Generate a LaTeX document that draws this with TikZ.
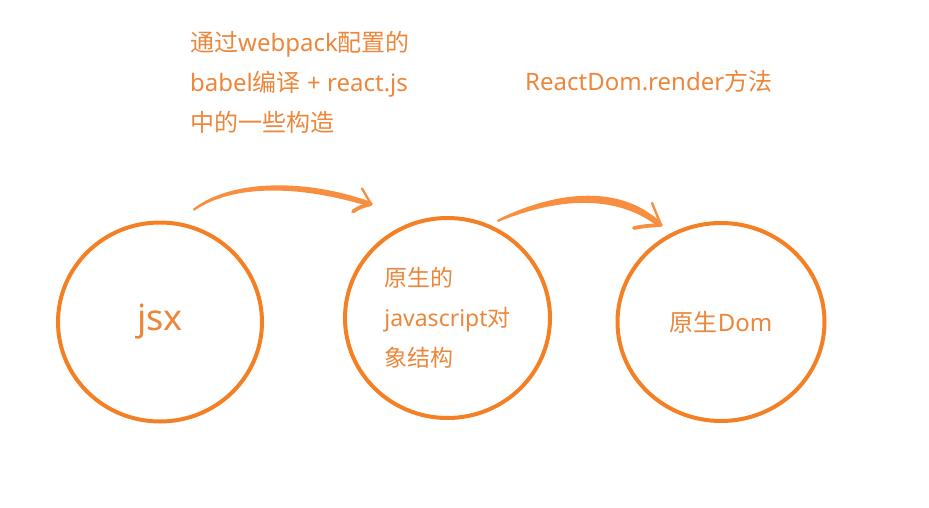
\documentclass[tikz,border=0pt]{standalone}
\usepackage{fontspec}
\setmainfont{Noto Sans}
\newfontfamily\cjk{Noto Sans CJK SC}
\usetikzlibrary{shapes.geometric}
\definecolor{ring}{RGB}{243,128,36}
\definecolor{txt}{RGB}{236,134,58}
\definecolor{brushc}{RGB}{248,143,64}
\begin{document}
\begin{tikzpicture}[x=1pt,y=-1pt,
  ringnode/.style={draw=ring,line width=4pt,ellipse,inner sep=0pt,text=txt},
  lbl/.style={text=txt,inner sep=0pt,align=left},
  brushfill/.style={fill=brushc},
  barbthin/.style={draw=brushc,line width=2.4pt,line cap=round,line join=round},
  barbthick/.style={draw=brushc,line width=3.8pt,line cap=round,line join=round}]
\useasboundingbox (0,0) rectangle (929,508);
% circles
\node[ringnode,minimum width=204pt,minimum height=199pt,font=\fontsize{36}{40}\selectfont] (jsx) at (160,322) {jsx};
\node[ringnode,minimum width=205pt,minimum height=200pt,align=left,font=\fontsize{23}{40}\selectfont] (obj) at (447.5,318) {{\cjk 原生的}\\javascript{\cjk 对}\\{\cjk 象结构}};
\node[ringnode,minimum width=207pt,minimum height=198pt,font=\fontsize{24}{40}\selectfont] (dom) at (721,322) {{\cjk 原生}Dom};
% labels
\node[lbl,anchor=west,font=\fontsize{24}{40}\selectfont] (t1) at (190,82) {{\cjk 通过}webpack{\cjk 配置的}\\babel{\cjk 编译} + react.js\\{\cjk 中的一些构造}};
\node[lbl,anchor=west,font=\fontsize{24}{40}\selectfont] (t2) at (525,81) {ReactDom.render{\cjk 方法}};
% arrow endpoints
\coordinate (a1s) at (193,209);
\coordinate (a1e) at (371,204);
\coordinate (a1u) at (362,188.5);
\coordinate (a1l) at (353,211.5);
\coordinate (a2s) at (497,220);
\coordinate (a2e) at (661,225);
\coordinate (a2u) at (652,203);
\coordinate (a2l) at (634,228);
% brush arrow 1
\fill[brushfill] (a1s) .. controls (228,181) and (300,177) .. (370,201.5)
  -- (369,206.5) .. controls (300,185) and (232,184) .. (194,211) -- cycle;
\draw[barbthin] (a1u) -- (a1e);
\draw[barbthick] (a1l) .. controls (360,207) .. (a1e);
% brush arrow 2
\fill[brushfill] (a2s) .. controls (540,198) and (612,178) .. (660,221.5)
  -- (658,226.5) .. controls (608,188) and (542,204) .. (498,222) -- cycle;
\draw[barbthin] (a2u) -- (a2e);
\draw[barbthick] (a2l) .. controls (645,226) .. (a2e);
\end{tikzpicture}
\end{document}
